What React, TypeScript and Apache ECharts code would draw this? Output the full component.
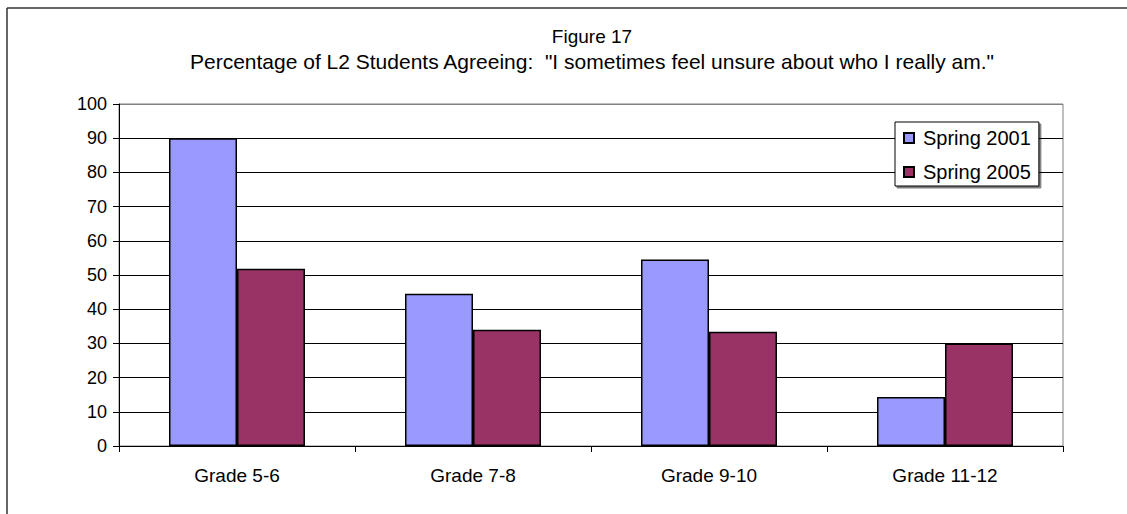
import React, { useEffect, useRef } from "react";
import * as echarts from "echarts";

const categories = ["Grade 5-6", "Grade 7-8", "Grade 9-10", "Grade 11-12"];
const seriesNames = ["Spring 2001", "Spring 2005"];
const spring2001 = [90, 44.5, 54.5, 14.3];
const spring2005 = [51.8, 34, 33.4, 30];
const yTicks = [0, 100, 10]; // min, max, interval
const titleText = "Figure 17";
const subtitleText = 'Percentage of L2 Students Agreeing:  "I sometimes feel unsure about who I really am."';

const FONT = "'Liberation Sans', Arial, sans-serif";

export default function App() {
  const ref = useRef<HTMLDivElement>(null);
  useEffect(() => {
    if (!ref.current) return;
    const chart = echarts.init(ref.current, undefined, { renderer: "svg" });
    const gridColors = [] as string[];
    for (let v = yTicks[0]; v <= yTicks[1]; v += yTicks[2]) gridColors.push(v === yTicks[1] ? "#808080" : "#000");
    chart.setOption({
      animation: false,
      backgroundColor: "#fff",
      textStyle: { fontFamily: FONT },
      graphic: [
        { type: "line", shape: { x1: 7, y1: 8, x2: 1127, y2: 8 }, style: { stroke: "#333", lineWidth: 1.5 } },
        { type: "line", shape: { x1: 7, y1: 8, x2: 7, y2: 514 }, style: { stroke: "#333", lineWidth: 1.5 } },
        {
          type: "text",
          x: 592,
          y: 36,
          style: { text: titleText, textAlign: "center", textVerticalAlign: "middle", font: `19px ${FONT}`, fill: "#000" },
        },
        {
          type: "text",
          x: 592,
          y: 61,
          style: { text: subtitleText, textAlign: "center", textVerticalAlign: "middle", font: `21px ${FONT}`, fill: "#000" },
        },
      ],
      grid: { left: 119, right: 64, top: 104, bottom: 68, show: true, borderColor: "#808080", borderWidth: 1 },
      legend: {
        orient: "vertical",
        left: 895,
        top: 122,
        padding: [6, 8, 4, 8],
        itemGap: 14,
        itemWidth: 10,
        itemHeight: 10,
        icon: "rect",
        backgroundColor: "#fff",
        borderColor: "#000",
        borderWidth: 1,
        shadowColor: "rgba(0,0,0,0.5)",
        shadowOffsetX: 2,
        shadowOffsetY: 2,
        shadowBlur: 0,
        textStyle: { fontSize: 20, color: "#000", fontFamily: FONT, padding: [0, 0, 0, 4] },
        data: seriesNames,
      },
      xAxis: {
        type: "category",
        data: categories,
        axisLine: { lineStyle: { color: "#000", width: 1 } },
        axisTick: { show: true, length: 6, alignWithLabel: false, lineStyle: { color: "#000" } },
        axisLabel: { fontSize: 19, color: "#000", margin: 20, fontFamily: FONT },
        splitLine: { show: false },
      },
      yAxis: {
        type: "value",
        min: yTicks[0],
        max: yTicks[1],
        interval: yTicks[2],
        axisLine: { show: true, lineStyle: { color: "#000", width: 1 } },
        axisTick: { show: true, length: 6, lineStyle: { color: "#000" } },
        axisLabel: { fontSize: 18, color: "#000", margin: 12, fontFamily: FONT },
        splitLine: { show: true, lineStyle: { color: gridColors, width: 1 } },
      },
      series: [
        {
          name: seriesNames[0],
          type: "bar",
          data: spring2001,
          barWidth: 68,
          barGap: "0%",
          itemStyle: { color: "#9999FF", borderColor: "#000", borderWidth: 1.5 },
        },
        {
          name: seriesNames[1],
          type: "bar",
          data: spring2005,
          barWidth: 68,
          barGap: "0%",
          itemStyle: { color: "#993366", borderColor: "#000", borderWidth: 1.5 },
        },
      ],
    });
    return () => chart.dispose();
  }, []);
  return <div ref={ref} style={{ position: "absolute", left: 0, top: 0, width: 1127, height: 514 }} />;
}
